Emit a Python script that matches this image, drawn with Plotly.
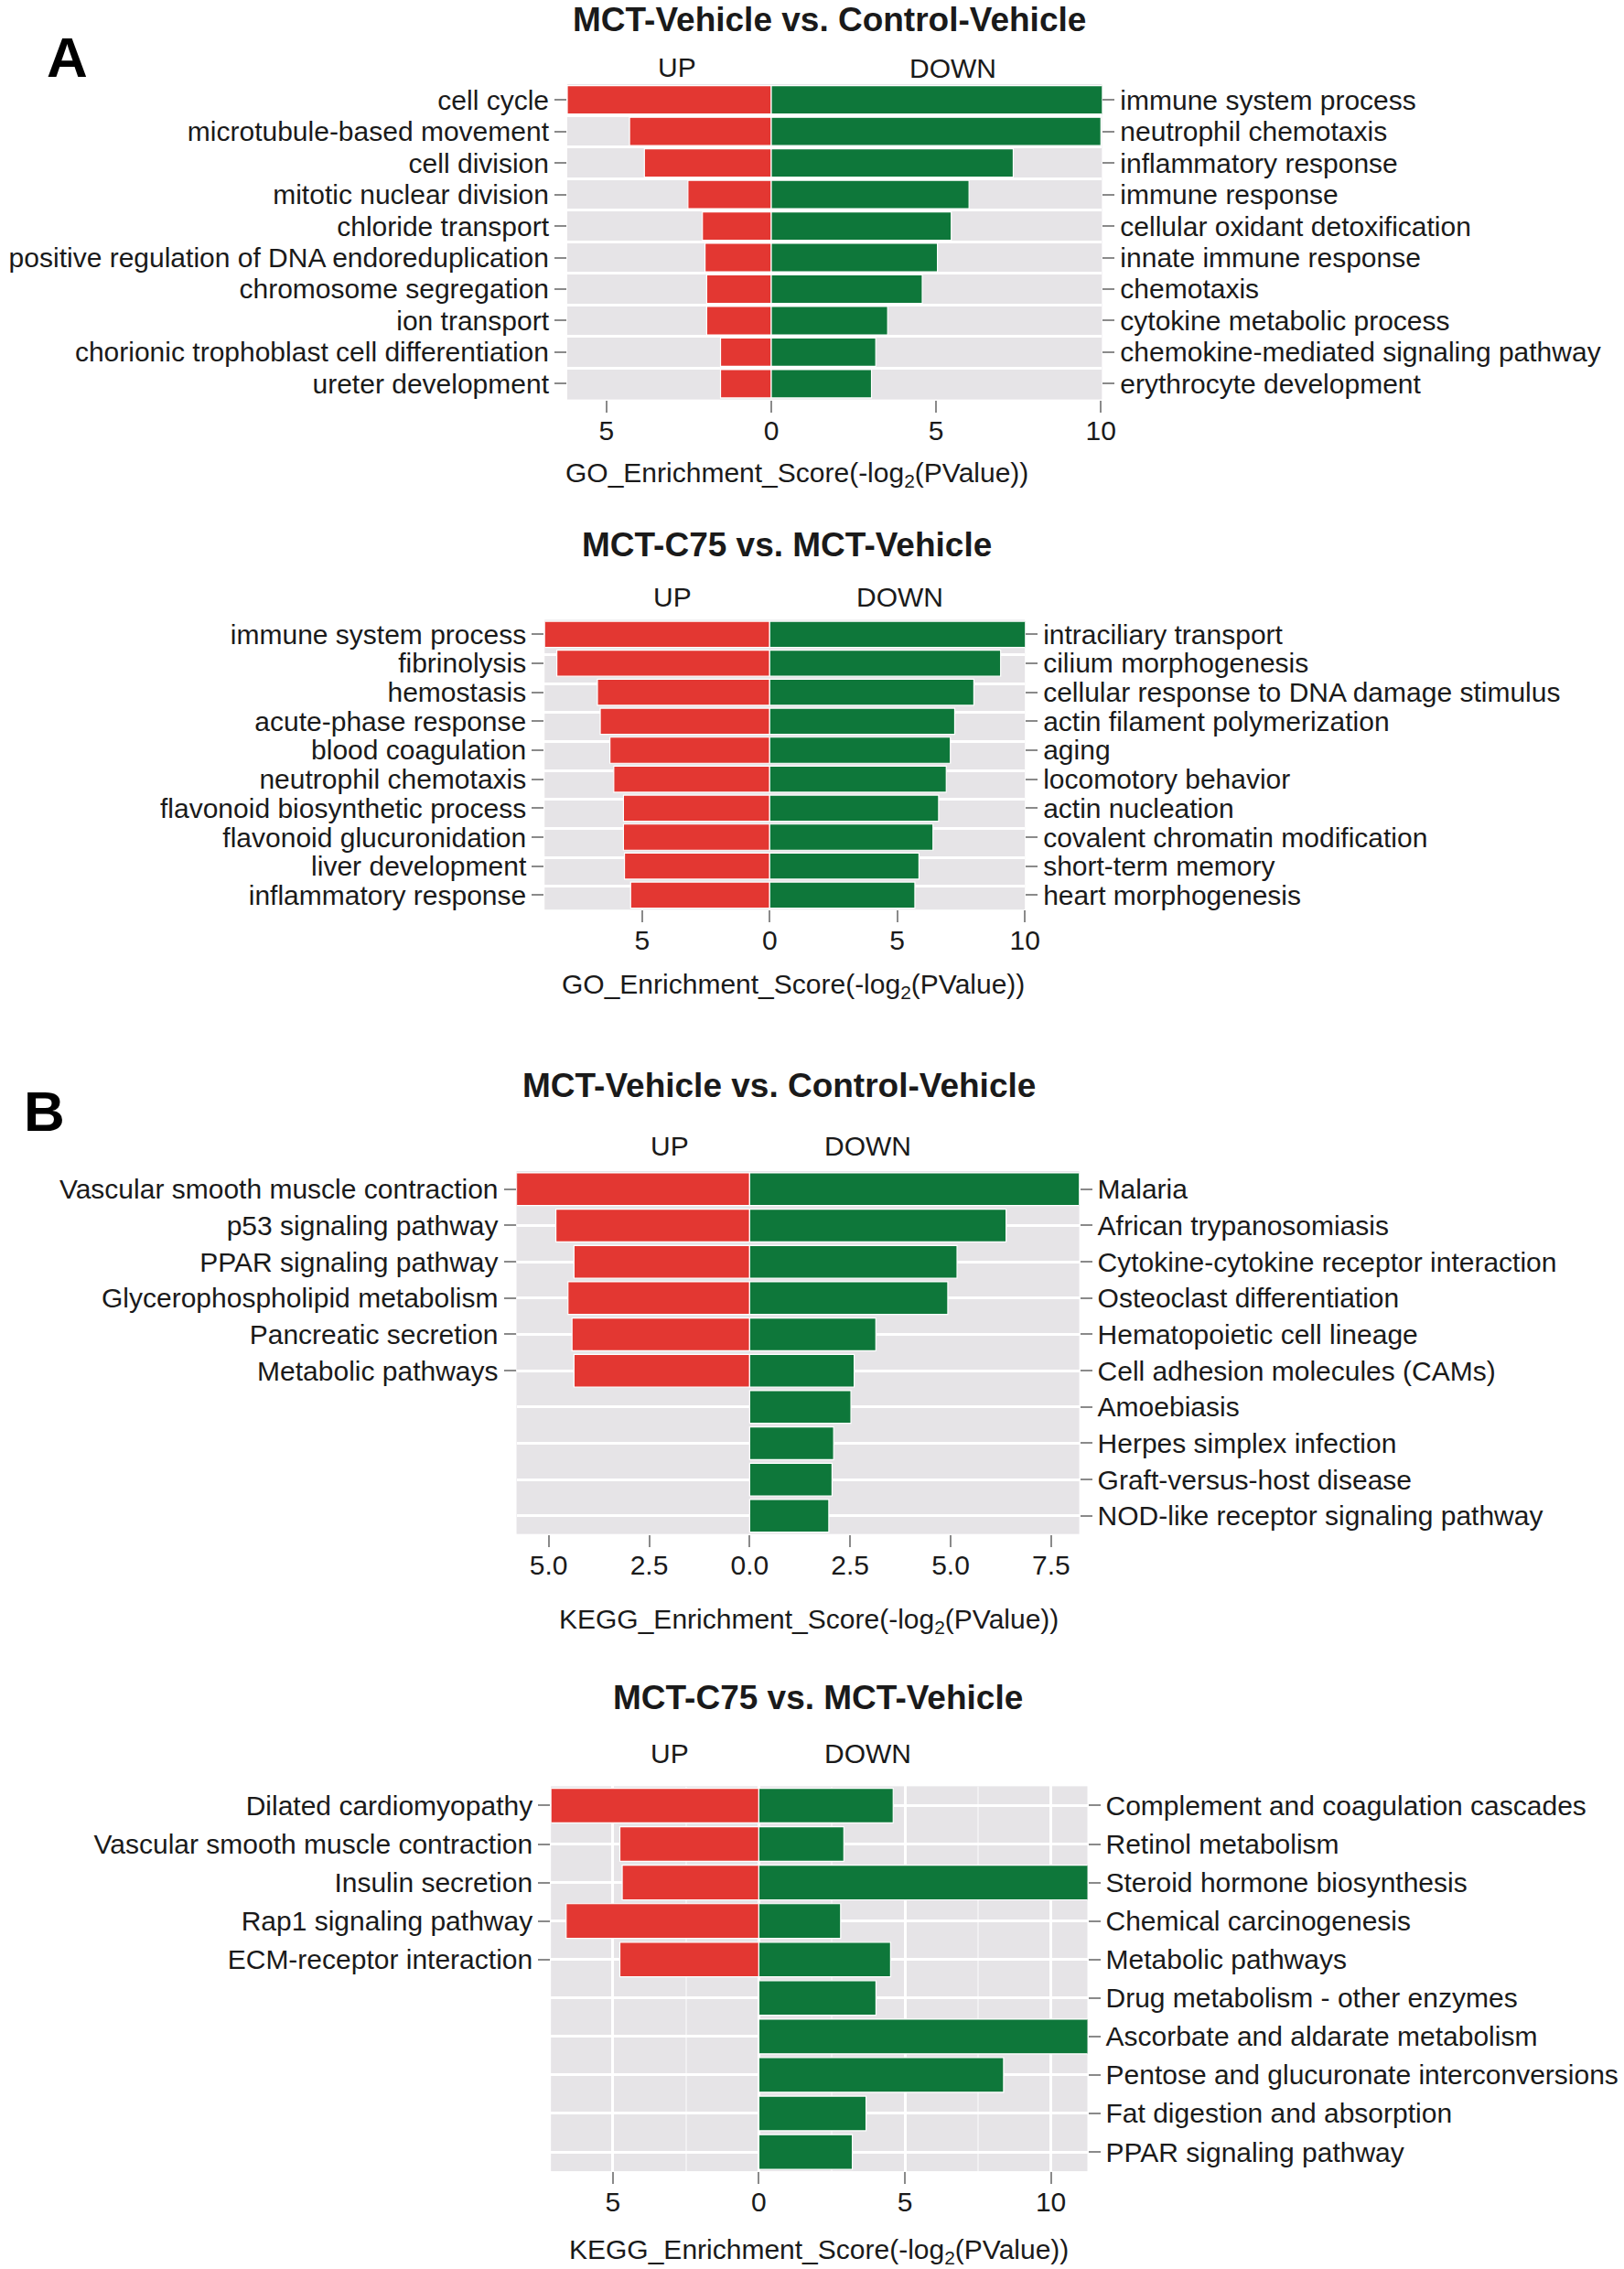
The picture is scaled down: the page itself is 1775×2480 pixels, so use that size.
import plotly.graph_objects as go

W, H = 1775, 2480
FONT = 'Liberation Sans, Arial, Helvetica, sans-serif'
INK = '#1a1a1a'
TICK_COLOR = '#8a8a8a'
RED = '#E33732'
GREEN = '#0E773A'
PANEL_BG = '#E6E4E7'

###
# data (scores are -log2(PValue))
###
GO_LABEL = 'GO_Enrichment_Score(-log<sub>2</sub>(PValue))'
KEGG_LABEL = 'KEGG_Enrichment_Score(-log<sub>2</sub>(PValue))'

# A, top: MCT-Vehicle vs. Control-Vehicle
go1_up_terms = ['cell cycle', 'microtubule-based movement', 'cell division',
                'mitotic nuclear division', 'chloride transport',
                'positive regulation of DNA endoreduplication',
                'chromosome segregation', 'ion transport',
                'chorionic trophoblast cell differentiation',
                'ureter development']
go1_up_score = [6.19, 4.3, 3.85, 2.53, 2.09, 2.01, 1.96, 1.96, 1.54, 1.54]
go1_down_terms = ['immune system process', 'neutrophil chemotaxis',
                  'inflammatory response', 'immune response',
                  'cellular oxidant detoxification', 'innate immune response',
                  'chemotaxis', 'cytokine metabolic process',
                  'chemokine-mediated signaling pathway',
                  'erythrocyte development']
go1_down_score = [10.05, 10.0, 7.34, 6.0, 5.46, 5.04, 4.58, 3.53, 3.17, 3.04]

# A, bottom: MCT-C75 vs. MCT-Vehicle
go2_up_terms = ['immune system process', 'fibrinolysis', 'hemostasis',
                'acute-phase response', 'blood coagulation',
                'neutrophil chemotaxis', 'flavonoid biosynthetic process',
                'flavonoid glucuronidation', 'liver development',
                'inflammatory response']
go2_up_score = [8.82, 8.34, 6.75, 6.64, 6.26, 6.11, 5.73, 5.73, 5.69, 5.45]
go2_down_terms = ['intraciliary transport', 'cilium morphogenesis',
                  'cellular response to DNA damage stimulus',
                  'actin filament polymerization', 'aging',
                  'locomotory behavior', 'actin nucleation',
                  'covalent chromatin modification', 'short-term memory',
                  'heart morphogenesis']
go2_down_score = [10.1, 9.05, 8.0, 7.25, 7.08, 6.92, 6.62, 6.4, 5.85, 5.69]

# B, top: MCT-Vehicle vs. Control-Vehicle
kegg1_up_terms = ['Vascular smooth muscle contraction',
                  'p53 signaling pathway', 'PPAR signaling pathway',
                  'Glycerophospholipid metabolism', 'Pancreatic secretion',
                  'Metabolic pathways']
kegg1_up_score = [5.8, 4.82, 4.37, 4.52, 4.42, 4.37]
kegg1_down_terms = ['Malaria', 'African trypanosomiasis',
                    'Cytokine-cytokine receptor interaction',
                    'Osteoclast differentiation', 'Hematopoietic cell lineage',
                    'Cell adhesion molecules (CAMs)', 'Amoebiasis',
                    'Herpes simplex infection', 'Graft-versus-host disease',
                    'NOD-like receptor signaling pathway']
kegg1_down_score = [8.2, 6.38, 5.16, 4.93, 3.14, 2.6, 2.52, 2.09, 2.05, 1.97]

# B, bottom: MCT-C75 vs. MCT-Vehicle
kegg2_up_terms = ['Dilated cardiomyopathy',
                  'Vascular smooth muscle contraction', 'Insulin secretion',
                  'Rap1 signaling pathway', 'ECM-receptor interaction']
kegg2_up_score = [7.12, 4.76, 4.68, 6.6, 4.76]
kegg2_down_terms = ['Complement and coagulation cascades',
                    'Retinol metabolism', 'Steroid hormone biosynthesis',
                    'Chemical carcinogenesis', 'Metabolic pathways',
                    'Drug metabolism - other enzymes',
                    'Ascorbate and aldarate metabolism',
                    'Pentose and glucuronate interconversions',
                    'Fat digestion and absorption', 'PPAR signaling pathway']
kegg2_down_score = [4.6, 2.91, 11.3, 2.8, 4.51, 4.01, 11.3, 8.38, 3.67, 3.2]

###
# page geometry (pixels on the 1775x2480 page)
###
panels = [
    dict(title='MCT-Vehicle vs. Control-Vehicle', xlabel=GO_LABEL,
         up=go1_up_terms, up_score=go1_up_score,
         down=go1_down_terms, down_score=go1_down_score,
         box=(626, 91, 1216, 436), xrange=(-6.19, 10.03),
         ticks=[-5, 0, 5, 10], fmt='{:g}', rowgrid='between', vgrid=False,
         title_xy=(915, 21), up_xy=(747, 73), down_xy=(1052, 74),
         xlabel_xy=(879, 518)),
    dict(title='MCT-C75 vs. MCT-Vehicle', xlabel=GO_LABEL,
         up=go2_up_terms, up_score=go2_up_score,
         down=go2_down_terms, down_score=go2_down_score,
         box=(601, 677, 1131, 994), xrange=(-8.82, 10.0),
         ticks=[-5, 0, 5, 10], fmt='{:g}', rowgrid='offset', vgrid=False,
         title_xy=(868, 595), up_xy=(742, 652), down_xy=(993, 652),
         xlabel_xy=(875, 1077)),
    dict(title='MCT-Vehicle vs. Control-Vehicle', xlabel=KEGG_LABEL,
         up=kegg1_up_terms, up_score=kegg1_up_score,
         down=kegg1_down_terms, down_score=kegg1_down_score,
         box=(570, 1280, 1191, 1677), xrange=(-5.8, 8.2),
         ticks=[-5, -2.5, 0, 2.5, 5, 7.5], fmt='{:.1f}', rowgrid='center',
         vgrid=False,
         title_xy=(860, 1186), up_xy=(739, 1253), down_xy=(958, 1253),
         xlabel_xy=(893, 1772)),
    dict(title='MCT-C75 vs. MCT-Vehicle', xlabel=KEGG_LABEL,
         up=kegg2_up_terms, up_score=kegg2_up_score,
         down=kegg2_down_terms, down_score=kegg2_down_score,
         box=(608, 1953, 1200, 2374), xrange=(-7.12, 11.25),
         ticks=[-5, 0, 5, 10], fmt='{:g}', rowgrid='center', vgrid=True,
         title_xy=(903, 1856), up_xy=(739, 1917), down_xy=(958, 1917),
         xlabel_xy=(904, 2461)),
]


def fx(x):
    return x / W


def fy(y):
    return 1 - y / H


fig = go.Figure()
layout = {}
annotations = []

for k, p in enumerate(panels, start=1):
    xname = 'x' if k == 1 else f'x{k}'
    yl = 2 * k - 1
    yr = 2 * k
    ylname = 'y' if yl == 1 else f'y{yl}'
    yrname = f'y{yr}'
    n = max(len(p['up']), len(p['down']))
    left, top, right, bottom = p['box']

    fig.add_trace(go.Bar(
        y=list(range(len(p['up']))), x=[-v for v in p['up_score']],
        orientation='h', width=0.9, xaxis=xname, yaxis=ylname,
        marker=dict(color=RED, line=dict(color='white', width=1.2)),
        showlegend=False, hoverinfo='skip'))
    fig.add_trace(go.Bar(
        y=list(range(len(p['down']))), x=p['down_score'],
        orientation='h', width=0.9, xaxis=xname, yaxis=yrname,
        marker=dict(color=GREEN, line=dict(color='white', width=1.2)),
        showlegend=False, hoverinfo='skip'))

    xkey = 'xaxis' if k == 1 else f'xaxis{k}'
    xax = dict(domain=[fx(left), fx(right)], anchor=ylname,
               range=list(p['xrange']), tickmode='array',
               tickvals=p['ticks'],
               ticktext=[p['fmt'].format(abs(t)) for t in p['ticks']],
               ticks='outside', ticklen=13, tickwidth=2,
               tickcolor=TICK_COLOR, ticklabelstandoff=-6,
               tickfont=dict(size=30, color=INK, family=FONT),
               showline=False, zeroline=False, showgrid=p['vgrid'],
               gridcolor='white', gridwidth=3, fixedrange=True)
    if p['vgrid']:
        xax['minor'] = dict(tickmode='array', tickvals=[-2.5, 2.5, 7.5],
                            showgrid=True, gridcolor='#F1F0F2',
                            gridwidth=1.5, ticks='')
    layout[xkey] = xax

    yax_common = dict(range=[n - 0.5, -0.5], tickmode='array',
                      ticks='outside', ticklen=13, tickwidth=2,
                      tickcolor=TICK_COLOR,
                      tickfont=dict(size=30, color=INK, family=FONT),
                      showline=False, zeroline=False, fixedrange=True,
                      domain=[fy(bottom), fy(top)], anchor=xname)

    ylkey = 'yaxis' if yl == 1 else f'yaxis{yl}'
    yla = dict(yax_common, tickvals=list(range(len(p['up']))),
               ticktext=p['up'], side='left', showgrid=False,
               ticklabelstandoff=0)
    yra = dict(yax_common, tickvals=list(range(len(p['down']))),
               ticktext=p['down'], side='right', overlaying=ylname,
               ticklabelstandoff=0,
               showgrid=p['rowgrid'] == 'center', gridcolor='white',
               gridwidth=3)
    if p['rowgrid'] == 'between':
        yla['minor'] = dict(tickmode='array',
                            tickvals=[i + 0.5 for i in range(n - 1)],
                            showgrid=True, gridcolor='white', gridwidth=3,
                            ticks='')
    elif p['rowgrid'] == 'offset':
        yla['minor'] = dict(tickmode='array',
                            tickvals=[i + 0.7 for i in range(n - 1)],
                            showgrid=True, gridcolor='white', gridwidth=3,
                            ticks='')
    layout[ylkey] = yla
    layout[f'yaxis{yr}'] = yra

    tx, ty = p['title_xy']
    annotations.append(dict(x=fx(tx), y=fy(ty), text=f"<b>{p['title']}</b>",
                            font=dict(size=37, color=INK, family=FONT)))
    ux, uy = p['up_xy']
    annotations.append(dict(x=fx(ux), y=fy(uy), text='UP',
                            font=dict(size=30, color=INK, family=FONT)))
    dx, dy = p['down_xy']
    annotations.append(dict(x=fx(dx), y=fy(dy), text='DOWN',
                            font=dict(size=30, color=INK, family=FONT)))
    lx, ly = p['xlabel_xy']
    annotations.append(dict(x=fx(lx), y=fy(ly), text=p['xlabel'],
                            font=dict(size=30, color=INK, family=FONT)))

# panel letters
annotations.append(dict(x=fx(74), y=fy(62), text='<b>A</b>',
                        font=dict(size=62, color='black', family=FONT)))
annotations.append(dict(x=fx(49), y=fy(1214), text='<b>B</b>',
                        font=dict(size=62, color='black', family=FONT)))

for a in annotations:
    a.update(xref='paper', yref='paper', showarrow=False,
             xanchor='center', yanchor='middle')

fig.update_layout(
    width=W, height=H, margin=dict(l=0, r=0, t=0, b=0),
    paper_bgcolor='white', plot_bgcolor=PANEL_BG,
    font=dict(family=FONT, color=INK),
    bargap=0.1, annotations=annotations, **layout)

# drop the default 8px page margin so the figure fills the window exactly
fig.write_html('out.html', config={'displayModeBar': False}, post_script=(
    "document.body.style.margin='0';"
    "document.body.style.overflow='hidden';"))
